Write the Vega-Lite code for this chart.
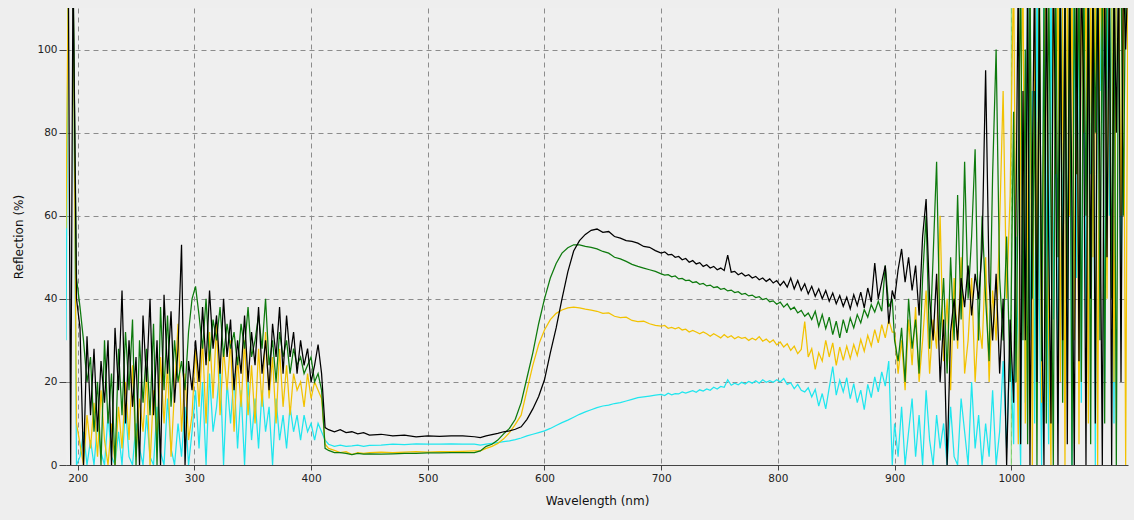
{
"$schema":"https://vega.github.io/schema/vega-lite/v6.json",
"width":1062,"height":457,
"autosize":{"type":"none"},
"padding":{"left":66,"top":8,"right":6,"bottom":55},
"background":"#eeeeee",
"config":{"view":{"stroke":null,"fill":"#efefef"},"font":"DejaVu Sans"},
"datasets":{"spec":[
{"w":190,"k":120,"g":120,"y":57,"c":30},
{"w":192,"k":120,"g":120,"y":120,"c":120},
{"w":194,"k":0,"g":120,"y":120,"c":120},
{"w":196,"k":120,"g":120,"y":120,"c":120},
{"w":199,"k":40,"g":45,"y":10,"c":0},
{"w":202,"k":33,"g":38,"y":5,"c":2},
{"w":205,"k":0,"g":30,"y":0,"c":8},
{"w":208,"k":31,"g":20,"y":12,"c":0},
{"w":211,"k":12,"g":26,"y":4,"c":6},
{"w":214,"k":28,"g":8,"y":15,"c":0},
{"w":217,"k":8,"g":20,"y":2,"c":10},
{"w":220,"k":25,"g":0,"y":18,"c":3},
{"w":223,"k":15,"g":30,"y":6,"c":0},
{"w":226,"k":30,"g":10,"y":0,"c":12},
{"w":229,"k":0,"g":22,"y":10,"c":2},
{"w":232,"k":33,"g":0,"y":0,"c":0},
{"w":235,"k":18,"g":28,"y":14,"c":8},
{"w":238,"k":42,"g":12,"y":4,"c":0},
{"w":241,"k":10,"g":32,"y":20,"c":14},
{"w":244,"k":30,"g":18,"y":6,"c":2},
{"w":247,"k":14,"g":35,"y":24,"c":0},
{"w":250,"k":26,"g":0,"y":2,"c":10},
{"w":253,"k":0,"g":30,"y":16,"c":4},
{"w":256,"k":36,"g":15,"y":8,"c":0},
{"w":259,"k":20,"g":28,"y":22,"c":12},
{"w":262,"k":40,"g":12,"y":0,"c":2},
{"w":265,"k":12,"g":34,"y":18,"c":0},
{"w":268,"k":30,"g":0,"y":6,"c":14},
{"w":271,"k":0,"g":38,"y":26,"c":3},
{"w":274,"k":41,"g":18,"y":10,"c":0},
{"w":277,"k":22,"g":36,"y":24,"c":16},
{"w":280,"k":37,"g":14,"y":2,"c":4},
{"w":283,"k":15,"g":30,"y":18,"c":0},
{"w":286,"k":28,"g":20,"y":34,"c":10},
{"w":289,"k":53,"g":25,"y":8,"c":2},
{"w":292,"k":0,"g":18,"y":22,"c":14},
{"w":295,"k":25,"g":32,"y":6,"c":0},
{"w":298,"k":18,"g":40,"y":12,"c":8},
{"w":301,"k":30,"g":43,"y":28,"c":18},
{"w":304,"k":20,"g":36,"y":14,"c":4},
{"w":307,"k":38,"g":28,"y":30,"c":20},
{"w":310,"k":24,"g":40,"y":10,"c":0},
{"w":313,"k":42,"g":25,"y":32,"c":22},
{"w":316,"k":28,"g":35,"y":16,"c":8},
{"w":319,"k":36,"g":30,"y":34,"c":14},
{"w":322,"k":22,"g":38,"y":12,"c":24},
{"w":325,"k":40,"g":26,"y":28,"c":0},
{"w":328,"k":26,"g":34,"y":18,"c":20},
{"w":331,"k":35,"g":28,"y":30,"c":10},
{"w":334,"k":18,"g":32,"y":8,"c":22},
{"w":337,"k":30,"g":24,"y":26,"c":4},
{"w":340,"k":22,"g":34,"y":14,"c":18},
{"w":343,"k":36,"g":28,"y":30,"c":0},
{"w":346,"k":20,"g":38,"y":12,"c":20},
{"w":349,"k":32,"g":26,"y":24,"c":6},
{"w":352,"k":24,"g":30,"y":10,"c":16},
{"w":355,"k":38,"g":36,"y":28,"c":4},
{"w":358,"k":22,"g":28,"y":14,"c":18},
{"w":361,"k":30,"g":40,"y":32,"c":8},
{"w":364,"k":18,"g":24,"y":16,"c":14},
{"w":367,"k":34,"g":30,"y":26,"c":0},
{"w":370,"k":26,"g":20,"y":10,"c":16},
{"w":373,"k":38,"g":32,"y":28,"c":6},
{"w":376,"k":22,"g":26,"y":14,"c":12},
{"w":379,"k":36,"g":30,"y":24,"c":4},
{"w":382,"k":26,"g":22,"y":12,"c":14},
{"w":385,"k":32,"g":28,"y":22,"c":8},
{"w":388,"k":22,"g":24,"y":18,"c":12},
{"w":391,"k":30,"g":26,"y":20,"c":6},
{"w":394,"k":24,"g":22,"y":14,"c":12},
{"w":397,"k":28,"g":24,"y":22,"c":8},
{"w":400,"k":20,"g":26,"y":16,"c":10},
{"w":403,"k":24,"g":20,"y":20,"c":6},
{"w":406,"k":29,"g":22,"y":18,"c":10},
{"w":409,"k":22,"g":18,"y":16,"c":8},
{"w":412,"k":9,"g":4,"y":5,"c":6},
{"w":415,"k":8.5,"g":3.5,"y":4,"c":5},
{"w":420,"k":8,"g":3,"y":3.5,"c":4.5},
{"w":425,"k":8.5,"g":3,"y":3,"c":4.8},
{"w":430,"k":7.8,"g":2.8,"y":3.2,"c":4.5},
{"w":435,"k":8,"g":2.5,"y":2.5,"c":4.6},
{"w":440,"k":7.5,"g":2.8,"y":3,"c":4.8},
{"w":445,"k":7.8,"g":2.6,"y":2.8,"c":4.5},
{"w":450,"k":7.2,"g":2.7,"y":3,"c":4.7},
{"w":460,"k":7.4,"g":2.6,"y":3.1,"c":4.8},
{"w":470,"k":7,"g":2.7,"y":3,"c":5},
{"w":480,"k":7.2,"g":2.8,"y":3.1,"c":4.9},
{"w":490,"k":6.8,"g":2.8,"y":3.2,"c":5.1},
{"w":500,"k":7,"g":2.9,"y":3.1,"c":5},
{"w":510,"k":6.9,"g":2.9,"y":3.2,"c":5},
{"w":520,"k":7,"g":3,"y":3.2,"c":5.1},
{"w":530,"k":7,"g":3,"y":3.3,"c":5},
{"w":540,"k":6.8,"g":3,"y":3.4,"c":5},
{"w":545,"k":6.6,"g":3.4,"y":3.4,"c":4.8},
{"w":550,"k":7,"g":4.5,"y":4,"c":5},
{"w":555,"k":7.3,"g":5,"y":4.5,"c":5.2},
{"w":560,"k":7.6,"g":6,"y":5.2,"c":5.4},
{"w":565,"k":8,"g":7.5,"y":6.3,"c":5.6},
{"w":570,"k":8.2,"g":8.8,"y":7.8,"c":5.8},
{"w":575,"k":8.6,"g":11,"y":9.8,"c":6.1},
{"w":580,"k":9.2,"g":15,"y":12,"c":6.5},
{"w":585,"k":11,"g":21,"y":18,"c":7},
{"w":590,"k":13.5,"g":27,"y":24,"c":7.4},
{"w":595,"k":16.5,"g":34,"y":29,"c":7.8},
{"w":600,"k":20.5,"g":40,"y":32.5,"c":8.2},
{"w":605,"k":27,"g":45,"y":35,"c":8.8},
{"w":610,"k":33,"g":48.5,"y":36.5,"c":9.5},
{"w":615,"k":40,"g":51,"y":37.3,"c":10.2},
{"w":620,"k":46.5,"g":52.3,"y":37.8,"c":10.8},
{"w":625,"k":51.5,"g":53,"y":38,"c":11.5},
{"w":630,"k":54,"g":53,"y":37.8,"c":12.2},
{"w":635,"k":55.5,"g":52.6,"y":37.5,"c":12.8},
{"w":640,"k":56.5,"g":52.4,"y":37.3,"c":13.3},
{"w":645,"k":56.8,"g":52,"y":37,"c":13.8},
{"w":650,"k":56,"g":51.4,"y":36.5,"c":14.2},
{"w":655,"k":56.2,"g":51,"y":36.6,"c":14.4},
{"w":660,"k":55,"g":50,"y":35.8,"c":14.8},
{"w":665,"k":54.6,"g":49.6,"y":35.5,"c":15},
{"w":670,"k":54,"g":49,"y":35.6,"c":15.4},
{"w":675,"k":53.8,"g":48.3,"y":34.8,"c":15.8},
{"w":680,"k":53.4,"g":47.8,"y":34.5,"c":16.2},
{"w":685,"k":52.6,"g":47.4,"y":34.6,"c":16.4},
{"w":690,"k":52.4,"g":47,"y":34,"c":16.6},
{"w":695,"k":51.6,"g":46.6,"y":33.6,"c":16.8},
{"w":700,"k":51,"g":46,"y":33.4,"c":17},
{"w":703,"k":51.3,"g":45.7,"y":33.6,"c":16.7},
{"w":706,"k":50.6,"g":45.8,"y":32.9,"c":17.3},
{"w":709,"k":50.7,"g":45.3,"y":33.1,"c":16.9},
{"w":712,"k":50,"g":45.5,"y":32.8,"c":17.2},
{"w":715,"k":50.2,"g":44.8,"y":33.1,"c":17.1},
{"w":718,"k":49.4,"g":44.9,"y":32.5,"c":17.6},
{"w":721,"k":49.7,"g":44.4,"y":32.7,"c":17.3},
{"w":724,"k":48.8,"g":44.5,"y":32,"c":17.6},
{"w":727,"k":49.2,"g":43.9,"y":32.4,"c":17.9},
{"w":730,"k":48.4,"g":44.1,"y":32,"c":17.5},
{"w":733,"k":48.7,"g":43.5,"y":31.6,"c":18.1},
{"w":736,"k":47.8,"g":43.7,"y":32,"c":17.8},
{"w":739,"k":48.2,"g":43.1,"y":31.6,"c":18.3},
{"w":742,"k":47.4,"g":43.3,"y":31,"c":18},
{"w":745,"k":47.8,"g":42.7,"y":31.6,"c":18.7},
{"w":748,"k":47,"g":42.9,"y":31.1,"c":18.3},
{"w":751,"k":47.4,"g":42.3,"y":30.6,"c":18.9},
{"w":754,"k":46.8,"g":42.5,"y":31.4,"c":18.7},
{"w":757,"k":50.5,"g":41.9,"y":30.7,"c":20.5},
{"w":760,"k":46.4,"g":42.1,"y":31.1,"c":19.2},
{"w":763,"k":46.6,"g":41.5,"y":30.4,"c":19.7},
{"w":766,"k":45.8,"g":41.7,"y":30.9,"c":19.3},
{"w":769,"k":46.2,"g":41.1,"y":30.5,"c":19.9},
{"w":772,"k":45.5,"g":41.3,"y":30.7,"c":19.5},
{"w":775,"k":45.8,"g":40.7,"y":30,"c":20.1},
{"w":778,"k":45,"g":40.9,"y":30.5,"c":19.7},
{"w":781,"k":45.4,"g":40.3,"y":30.1,"c":20.3},
{"w":784,"k":44.6,"g":40.5,"y":30.9,"c":19.7},
{"w":787,"k":45,"g":39.8,"y":29.8,"c":20.5},
{"w":790,"k":44.2,"g":40.1,"y":30.3,"c":19.9},
{"w":793,"k":44.8,"g":39.3,"y":29.5,"c":20.3},
{"w":796,"k":43.8,"g":39.5,"y":30.1,"c":19.9},
{"w":799,"k":44.4,"g":38.7,"y":28.9,"c":20.5},
{"w":802,"k":43.2,"g":39.2,"y":29.6,"c":20},
{"w":805,"k":44.2,"g":38,"y":28.4,"c":20.8},
{"w":808,"k":42.8,"g":38.8,"y":29.2,"c":19.4},
{"w":811,"k":45,"g":37.4,"y":27.6,"c":19.8},
{"w":814,"k":42.4,"g":38,"y":28.6,"c":18.4},
{"w":817,"k":44.4,"g":36.6,"y":26.8,"c":19.4},
{"w":820,"k":42,"g":37.2,"y":27.8,"c":18},
{"w":823,"k":43.6,"g":35.8,"y":34.5,"c":17.6},
{"w":826,"k":41.2,"g":36.6,"y":26,"c":18.6},
{"w":829,"k":43,"g":35,"y":28,"c":16.4},
{"w":832,"k":40.6,"g":37,"y":23,"c":18.2},
{"w":835,"k":42.4,"g":33.4,"y":27,"c":14.2},
{"w":838,"k":40,"g":36.2,"y":25,"c":17.2},
{"w":841,"k":42,"g":32.8,"y":30,"c":13.5},
{"w":844,"k":39.4,"g":35.6,"y":26,"c":18.6},
{"w":847,"k":41.4,"g":31.4,"y":29.4,"c":23.7},
{"w":850,"k":38.8,"g":34.6,"y":24,"c":16.8},
{"w":853,"k":40.8,"g":30.6,"y":28.4,"c":20.4},
{"w":856,"k":38.2,"g":35,"y":25.2,"c":17.6},
{"w":859,"k":40.4,"g":31.8,"y":28.6,"c":21},
{"w":862,"k":37.6,"g":35.4,"y":25.6,"c":16},
{"w":865,"k":41,"g":33,"y":29,"c":19.6},
{"w":868,"k":38.4,"g":36.2,"y":26.4,"c":15},
{"w":871,"k":41.6,"g":34.2,"y":30.2,"c":18},
{"w":874,"k":37.8,"g":37.4,"y":27.4,"c":13.3},
{"w":877,"k":42.6,"g":35.6,"y":31.2,"c":19.4},
{"w":880,"k":39.2,"g":38.6,"y":28.6,"c":16.2},
{"w":883,"k":48.6,"g":36.8,"y":32.6,"c":21.2},
{"w":886,"k":40,"g":39.4,"y":29.4,"c":17.6},
{"w":889,"k":44,"g":37,"y":33.8,"c":22.4},
{"w":892,"k":48,"g":48,"y":30.6,"c":19},
{"w":895,"k":34,"g":38,"y":35,"c":25},
{"w":898,"k":42,"g":40,"y":32,"c":0},
{"w":900,"k":40,"g":30,"y":32,"c":10},
{"w":903,"k":47,"g":25,"y":22,"c":2},
{"w":906,"k":52,"g":33,"y":30,"c":14},
{"w":909,"k":44,"g":20,"y":18,"c":0},
{"w":912,"k":50,"g":40,"y":35,"c":8},
{"w":915,"k":42,"g":28,"y":24,"c":16},
{"w":918,"k":48,"g":35,"y":38,"c":2},
{"w":921,"k":36,"g":22,"y":20,"c":12},
{"w":924,"k":55,"g":45,"y":30,"c":0},
{"w":927,"k":64,"g":60,"y":42,"c":18},
{"w":930,"k":40,"g":28,"y":22,"c":6},
{"w":933,"k":30,"g":50,"y":35,"c":0},
{"w":936,"k":46,"g":73,"y":28,"c":12},
{"w":939,"k":20,"g":30,"y":60,"c":4},
{"w":942,"k":35,"g":45,"y":25,"c":10},
{"w":945,"k":0,"g":22,"y":40,"c":0},
{"w":948,"k":32,"g":50,"y":18,"c":14},
{"w":951,"k":40,"g":30,"y":45,"c":2},
{"w":954,"k":30,"g":65,"y":28,"c":0},
{"w":957,"k":45,"g":35,"y":50,"c":16},
{"w":960,"k":38,"g":73,"y":22,"c":8},
{"w":963,"k":48,"g":40,"y":30,"c":0},
{"w":966,"k":36,"g":55,"y":45,"c":20},
{"w":969,"k":46,"g":76,"y":20,"c":4},
{"w":972,"k":40,"g":30,"y":35,"c":12},
{"w":975,"k":52,"g":60,"y":28,"c":0},
{"w":978,"k":95,"g":40,"y":50,"c":10},
{"w":981,"k":44,"g":25,"y":20,"c":2},
{"w":984,"k":30,"g":70,"y":42,"c":18},
{"w":987,"k":46,"g":100,"y":30,"c":0},
{"w":990,"k":22,"g":45,"y":58,"c":8},
{"w":993,"k":40,"g":30,"y":90,"c":25},
{"w":996,"k":0,"g":55,"y":40,"c":4},
{"w":999,"k":35,"g":20,"y":65,"c":30},
{"w":1002,"k":15,"g":85,"y":120,"c":5},
{"w":1004,"k":60,"g":20,"y":40,"c":55},
{"w":1006,"k":120,"g":70,"y":5,"c":25},
{"w":1008,"k":5,"g":120,"y":80,"c":0},
{"w":1010,"k":90,"g":30,"y":120,"c":70},
{"w":1012,"k":30,"g":100,"y":10,"c":15},
{"w":1014,"k":120,"g":5,"y":60,"c":120},
{"w":1016,"k":0,"g":120,"y":120,"c":30},
{"w":1018,"k":70,"g":40,"y":0,"c":90},
{"w":1020,"k":120,"g":90,"y":110,"c":10},
{"w":1022,"k":20,"g":0,"y":45,"c":120},
{"w":1024,"k":110,"g":120,"y":120,"c":40},
{"w":1026,"k":40,"g":25,"y":15,"c":0},
{"w":1028,"k":0,"g":110,"y":95,"c":120},
{"w":1030,"k":120,"g":10,"y":120,"c":60},
{"w":1032,"k":55,"g":120,"y":30,"c":5},
{"w":1034,"k":10,"g":60,"y":0,"c":120},
{"w":1036,"k":120,"g":0,"y":120,"c":35},
{"w":1038,"k":80,"g":120,"y":70,"c":100},
{"w":1040,"k":0,"g":50,"y":120,"c":10},
{"w":1042,"k":120,"g":120,"y":20,"c":120},
{"w":1044,"k":30,"g":15,"y":110,"c":50},
{"w":1046,"k":115,"g":120,"y":0,"c":120},
{"w":1048,"k":5,"g":40,"y":120,"c":20},
{"w":1050,"k":120,"g":120,"y":60,"c":110},
{"w":1052,"k":60,"g":0,"y":120,"c":0},
{"w":1054,"k":0,"g":120,"y":30,"c":120},
{"w":1056,"k":120,"g":70,"y":120,"c":45},
{"w":1058,"k":25,"g":120,"y":5,"c":120},
{"w":1060,"k":120,"g":20,"y":120,"c":15},
{"w":1062,"k":90,"g":120,"y":80,"c":120},
{"w":1064,"k":0,"g":60,"y":120,"c":30},
{"w":1066,"k":120,"g":120,"y":10,"c":120},
{"w":1068,"k":40,"g":5,"y":120,"c":70},
{"w":1070,"k":120,"g":120,"y":50,"c":120},
{"w":1072,"k":10,"g":80,"y":120,"c":0},
{"w":1074,"k":120,"g":120,"y":0,"c":120},
{"w":1076,"k":70,"g":30,"y":120,"c":90},
{"w":1078,"k":0,"g":120,"y":100,"c":120},
{"w":1080,"k":120,"g":10,"y":120,"c":20},
{"w":1082,"k":50,"g":120,"y":40,"c":120},
{"w":1084,"k":120,"g":120,"y":120,"c":60},
{"w":1086,"k":0,"g":40,"y":120,"c":120},
{"w":1088,"k":120,"g":120,"y":20,"c":10},
{"w":1090,"k":80,"g":0,"y":120,"c":120},
{"w":1092,"k":120,"g":120,"y":120,"c":120},
{"w":1094,"k":20,"g":120,"y":60,"c":30},
{"w":1096,"k":120,"g":60,"y":120,"c":120},
{"w":1098,"k":100,"g":120,"y":0,"c":120},
{"w":1100,"k":120,"g":120,"y":120,"c":120}
],
"marker":[{"w":1000}]},
"layer":[
{"data":{"name":"marker"},
 "mark":{"type":"rule","color":"#7ddc6a","strokeWidth":1},
 "encoding":{"x":{"field":"w","type":"quantitative"}}},
{"data":{"name":"spec"},
 "transform":[{"fold":["c","y","g","k"],"as":["series","value"]}],
 "mark":{"type":"line","clip":true,"strokeWidth":1.25,"interpolate":"linear"},
 "encoding":{
  "x":{"field":"w","type":"quantitative","scale":{"domain":[190,1100],"nice":false,"zero":false},
   "axis":{"title":"Wavelength (nm)","format":"d","values":[200,300,400,500,600,700,800,900,1000],"grid":true,"gridDash":[5,4],"gridColor":"#8c8c8c","gridOpacity":1,"domainColor":"#444","domainWidth":1.2,"tickColor":"#444","tickSize":5,"labelFontSize":10.5,"labelColor":"#222","labelPadding":3,"titleFontSize":12,"titleFontWeight":"normal","titleColor":"#111","titlePadding":12}},
  "y":{"field":"value","type":"quantitative","scale":{"domain":[0,110],"nice":false},
   "axis":{"title":"Reflection (%)","values":[0,20,40,60,80,100],"grid":true,"gridDash":[5,4],"gridColor":"#8c8c8c","gridOpacity":1,"domain":false,"tickColor":"#444","tickSize":7,"labelFontSize":10.5,"labelColor":"#222","labelPadding":2,"titleFontSize":12,"titleFontWeight":"normal","titleColor":"#111","titlePadding":11}},
  "color":{"field":"series","type":"nominal","legend":null,"sort":["c","y","g","k"],
   "scale":{"domain":["c","y","g","k"],"range":["#1fe6ee","#f2c200","#0d7a0d","#000000"]}},
  "order":{"field":"w","type":"quantitative"}
 }}
]
}
